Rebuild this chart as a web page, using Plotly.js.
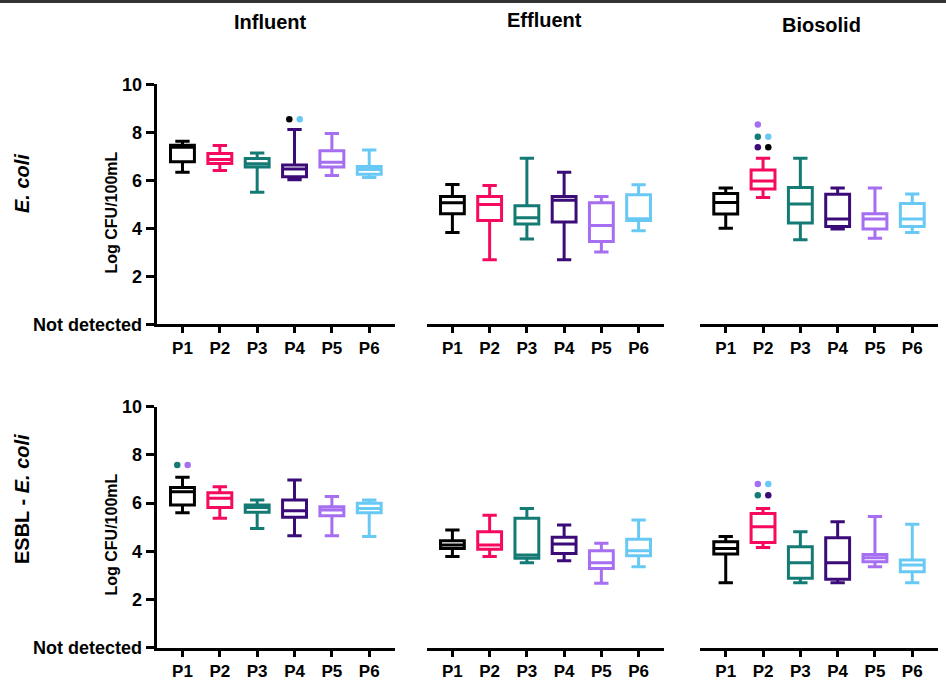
<!DOCTYPE html>
<html>
<head>
<meta charset="utf-8">
<script src="https://cdn.plot.ly/plotly-3.0.1.min.js"></script>
<style>html,body{margin:0;padding:0;background:#fff}#chart{width:946px;height:680px}</style>
</head>
<body>
<div id="chart"></div>
<script>
// ---------- data ----------
const categories = ['P1', 'P2', 'P3', 'P4', 'P5', 'P6'];
const columnTitles = ['Influent', 'Effluent', 'Biosolid'];
const rowTitles = ['<i>E. coli</i>', 'ESBL - <i>E. coli</i>'];
const yTickVals = [0, 2, 4, 6, 8, 10];
const yTickText = ['Not detected', '2', '4', '6', '8', '10'];
const yTitle = 'Log CFU/100mL';
const seriesColors = ['#000000', '#F50A5F', '#137A74', '#3B0C78', '#A66EF0', '#69C9F5'];

// E. coli – Influent
const ecoliInfLow  = [6.34, 6.41, 5.50, 6.02, 6.20, 6.12];
const ecoliInfQ1   = [6.77, 6.70, 6.55, 6.15, 6.55, 6.25];
const ecoliInfMed  = [7.38, 6.87, 6.69, 6.47, 6.75, 6.45];
const ecoliInfQ3   = [7.46, 7.12, 6.91, 6.64, 7.23, 6.57];
const ecoliInfHigh = [7.63, 7.45, 7.14, 8.12, 7.95, 7.26];
const ecoliInfOutCat = ['P4', 'P4'];
const ecoliInfOutVal = [8.54, 8.54];
const ecoliInfOutSeries = ['P1', 'P6'];

// E. coli – Effluent
const ecoliEffLow  = [3.83, 2.69, 3.55, 2.69, 3.01, 3.90];
const ecoliEffQ1   = [4.61, 4.33, 4.18, 4.26, 3.45, 4.33];
const ecoliEffMed  = [5.06, 4.99, 4.44, 5.17, 4.12, 4.40];
const ecoliEffQ3   = [5.33, 5.33, 4.94, 5.33, 5.06, 5.40];
const ecoliEffHigh = [5.82, 5.78, 6.92, 6.34, 5.33, 5.81];
const ecoliEffOutCat = [];
const ecoliEffOutVal = [];
const ecoliEffOutSeries = [];

// E. coli – Biosolid
const ecoliBioLow  = [4.00, 5.28, 3.52, 3.97, 3.59, 3.83];
const ecoliBioQ1   = [4.60, 5.64, 4.22, 4.08, 3.97, 4.08];
const ecoliBioMed  = [5.08, 5.97, 5.01, 4.39, 4.39, 4.39];
const ecoliBioQ3   = [5.45, 6.43, 5.70, 5.42, 4.61, 5.03];
const ecoliBioHigh = [5.68, 6.92, 6.92, 5.68, 5.68, 5.43];
const ecoliBioOutCat = ['P2', 'P2', 'P2', 'P2', 'P2'];
const ecoliBioOutVal = [8.33, 7.81, 7.81, 7.38, 7.38];
const ecoliBioOutSeries = ['P5', 'P3', 'P6', 'P4', 'P1'];

// ESBL E. coli – Influent
const esblInfLow  = [5.60, 5.37, 4.95, 4.65, 4.65, 4.61];
const esblInfQ1   = [5.92, 5.82, 5.62, 5.41, 5.48, 5.60];
const esblInfMed  = [6.47, 6.20, 5.82, 5.68, 5.71, 5.78];
const esblInfQ3   = [6.65, 6.43, 5.92, 6.13, 5.85, 5.99];
const esblInfHigh = [7.07, 6.68, 6.13, 6.96, 6.27, 6.13];
const esblInfOutCat = ['P1', 'P1'];
const esblInfOutVal = [7.58, 7.58];
const esblInfOutSeries = ['P3', 'P5'];

// ESBL E. coli – Effluent
const esblEffLow  = [3.78, 3.78, 3.53, 3.61, 2.67, 3.36];
const esblEffQ1   = [4.12, 4.08, 3.71, 3.91, 3.29, 3.82];
const esblEffMed  = [4.26, 4.26, 3.85, 4.30, 3.53, 4.02];
const esblEffQ3   = [4.44, 4.81, 5.37, 4.58, 4.02, 4.50];
const esblEffHigh = [4.88, 5.50, 5.78, 5.09, 4.33, 5.30];
const esblEffOutCat = [];
const esblEffOutVal = [];
const esblEffOutSeries = [];

// ESBL E. coli – Biosolid
const esblBioLow  = [2.70, 4.16, 2.70, 2.70, 3.36, 2.70];
const esblBioQ1   = [3.89, 4.36, 2.88, 2.84, 3.57, 3.15];
const esblBioMed  = [4.12, 5.02, 3.53, 3.53, 3.73, 3.43];
const esblBioQ3   = [4.40, 5.57, 4.19, 4.56, 3.87, 3.64];
const esblBioHigh = [4.61, 5.78, 4.81, 5.23, 5.44, 5.12];
const esblBioOutCat = ['P2', 'P2', 'P2', 'P2'];
const esblBioOutVal = [6.79, 6.79, 6.33, 6.33];
const esblBioOutSeries = ['P5', 'P6', 'P3', 'P4'];

// ---------- layout helpers ----------
const W = 946, H = 680;
const px = v => v / W;
const py = v => 1 - v / H;
const colPx = [[156.7, 395], [426.7, 664.3], [700, 938]];
const rowPx = [[84.3, 324.3], [406.7, 647.7]];
const FONT = 'Liberation Sans, Arial, sans-serif';

const panels = [
  [ecoliInfLow, ecoliInfQ1, ecoliInfMed, ecoliInfQ3, ecoliInfHigh, ecoliInfOutCat, ecoliInfOutVal, ecoliInfOutSeries],
  [ecoliEffLow, ecoliEffQ1, ecoliEffMed, ecoliEffQ3, ecoliEffHigh, ecoliEffOutCat, ecoliEffOutVal, ecoliEffOutSeries],
  [ecoliBioLow, ecoliBioQ1, ecoliBioMed, ecoliBioQ3, ecoliBioHigh, ecoliBioOutCat, ecoliBioOutVal, ecoliBioOutSeries],
  [esblInfLow, esblInfQ1, esblInfMed, esblInfQ3, esblInfHigh, esblInfOutCat, esblInfOutVal, esblInfOutSeries],
  [esblEffLow, esblEffQ1, esblEffMed, esblEffQ3, esblEffHigh, esblEffOutCat, esblEffOutVal, esblEffOutSeries],
  [esblBioLow, esblBioQ1, esblBioMed, esblBioQ3, esblBioHigh, esblBioOutCat, esblBioOutVal, esblBioOutSeries]
];

const traces = [];
const layout = {
  width: W, height: H,
  margin: {l: 0, r: 0, t: 0, b: 0},
  paper_bgcolor: '#ffffff', plot_bgcolor: 'rgba(0,0,0,0)',
  showlegend: false,
  font: {family: FONT, color: '#000'},
  annotations: [],
  shapes: [{type: 'line', xref: 'paper', yref: 'paper', x0: 0, x1: 1, y0: py(1.5), y1: py(1.5),
            line: {color: '#333333', width: 3}}]
};

panels.forEach((p, k) => {
  const [low, q1, med, q3, high, oCat, oVal, oSer] = p;
  const n = k + 1;
  const xa = 'x' + (n === 1 ? '' : n), ya = 'y' + (n === 1 ? '' : n);
  const col = k % 3, row = Math.floor(k / 3);
  categories.forEach((c, i) => {
    traces.push({
      type: 'box', x: [i], q1: [q1[i]], median: [med[i]], q3: [q3[i]],
      lowerfence: [low[i]], upperfence: [high[i]],
      width: 0.64, whiskerwidth: 0.6, boxpoints: false,
      line: {color: seriesColors[i], width: 3}, fillcolor: '#ffffff',
      xaxis: xa, yaxis: ya, hoverinfo: 'skip'
    });
  });
  // outliers: dots sharing a row are placed side by side
  const seen = {};
  const ox = [], oy = [], oc = [];
  oCat.forEach((c, j) => {
    const key = c + '|' + oVal[j];
    const slot = seen[key] || 0; seen[key] = slot + 1;
    ox.push(categories.indexOf(c) - 0.14 + 0.28 * slot);
    oy.push(oVal[j]);
    oc.push(seriesColors[categories.indexOf(oSer[j])]);
  });
  if (ox.length) traces.push({type: 'scatter', mode: 'markers', x: ox, y: oy,
    marker: {color: oc, size: 6.5}, xaxis: xa, yaxis: ya, hoverinfo: 'skip', cliponaxis: false});

  const xKey = 'xaxis' + (n === 1 ? '' : n), yKey = 'yaxis' + (n === 1 ? '' : n);
  layout[xKey] = {
    domain: [px(colPx[col][0]), px(colPx[col][1])], anchor: ya,
    range: [-0.69, 5.69], tickvals: [0, 1, 2, 3, 4, 5], ticktext: categories,
    showline: true, linewidth: 3, linecolor: '#000', ticks: 'outside', ticklen: 6, tickwidth: 3, tickcolor: '#000',
    tickfont: {family: FONT, size: 17, weight: 'bold', color: '#000'},
    showgrid: false, zeroline: false, fixedrange: true
  };
  layout[yKey] = {
    domain: [py(rowPx[row][1]), py(rowPx[row][0])], anchor: xa,
    range: [0, 10], showgrid: false, zeroline: false, fixedrange: true,
    visible: col === 0,
    tickvals: yTickVals, ticktext: yTickText,
    showline: true, linewidth: 3, linecolor: '#000', ticks: 'outside', ticklen: 8, tickwidth: 3, tickcolor: '#000',
    tickfont: {family: FONT, size: 18, weight: 'bold', color: '#000'}
  };
});

// column titles
const colTitleX = [270, 544, 821];
const colTitleY = [22, 20, 25];
columnTitles.forEach((t, i) => layout.annotations.push({
  text: t, xref: 'paper', yref: 'paper', x: px(colTitleX[i]), y: py(colTitleY[i]),
  xanchor: 'center', yanchor: 'middle', showarrow: false,
  font: {family: FONT, size: 20, weight: 'bold', color: '#000'}
}));
// row titles and y titles
const rowTitleY = [184, 499];
const yTitleY = [213, 535];
rowTitles.forEach((t, r) => {
  layout.annotations.push({
    text: t, xref: 'paper', yref: 'paper', x: px(22), y: py(rowTitleY[r]),
    xanchor: 'center', yanchor: 'middle', showarrow: false, textangle: -90,
    font: {family: FONT, size: 20, weight: 'bold', color: '#000'}
  });
  layout.annotations.push({
    text: yTitle, xref: 'paper', yref: 'paper', x: px(110.5), y: py(yTitleY[r]),
    xanchor: 'center', yanchor: 'middle', showarrow: false, textangle: -90,
    font: {family: FONT, size: 16, weight: 'bold', color: '#000'}
  });
});

Plotly.newPlot('chart', traces, layout, {staticPlot: true, displayModeBar: false});
</script>
</body>
</html>
